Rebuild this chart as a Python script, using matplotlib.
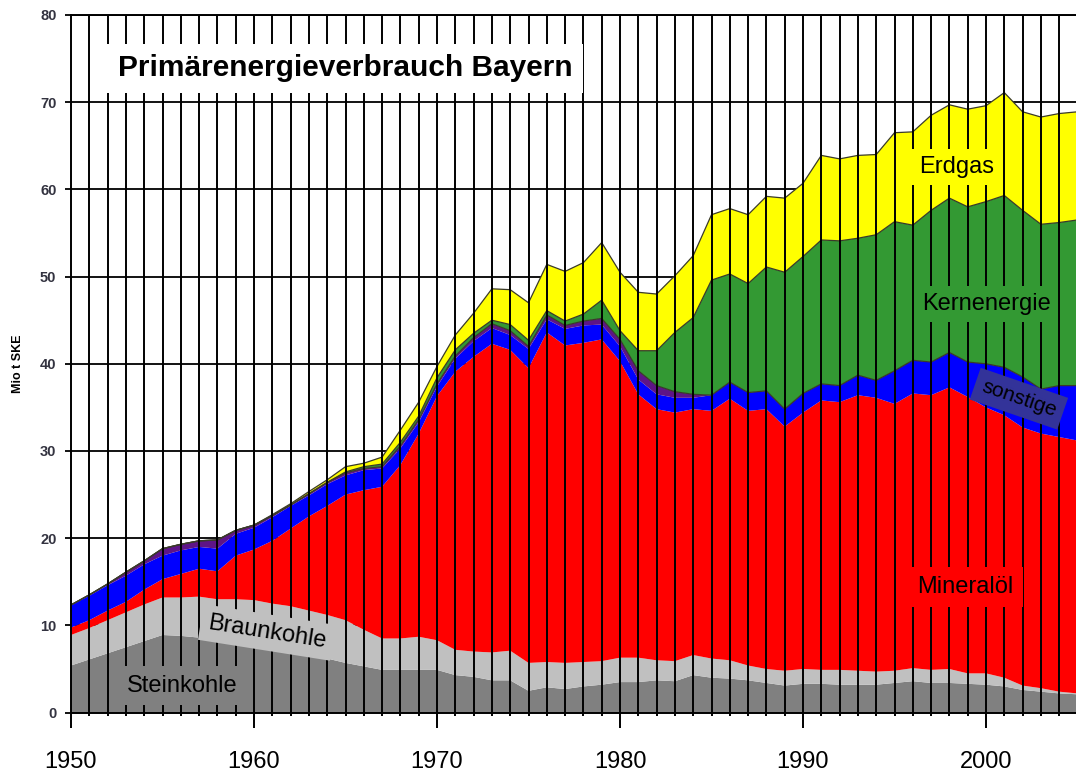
import numpy as np
import matplotlib
matplotlib.use("Agg")
import matplotlib.pyplot as plt

plt.rcParams['font.family'] = ['Liberation Sans', 'DejaVu Sans']

years = np.arange(1950, 2006)
decade_ticks = [1950, 1960, 1970, 1980, 1990, 2000]
y_ticks = [0, 10, 20, 30, 40, 50, 60, 70, 80]

steinkohle = [5.4, 6.1, 6.8, 7.5, 8.2, 8.9, 8.8, 8.6, 8.3, 8.1,
              7.8, 7.4, 7.0, 6.6, 6.2, 5.7, 5.3, 4.9, 4.9, 4.9,
              4.9, 4.3, 4.1, 3.7, 3.7, 2.5, 2.9, 2.7, 3.0, 3.2,
              3.5, 3.5, 3.7, 3.6, 4.3, 4.0, 3.9, 3.7, 3.4, 3.1,
              3.3, 3.3, 3.2, 3.2, 3.2, 3.4, 3.6, 3.4, 3.4, 3.3,
              3.2, 3.0, 2.6, 2.4, 2.2, 2.1]
braunkohle = [3.5, 3.6, 3.8, 4.0, 4.2, 4.3, 4.4, 4.7, 4.7, 4.9,
              5.1, 5.1, 5.2, 5.1, 5.0, 4.9, 4.2, 3.6, 3.6, 3.8,
              3.4, 2.9, 2.9, 3.2, 3.4, 3.2, 2.9, 3.0, 2.8, 2.7,
              2.8, 2.8, 2.3, 2.3, 2.3, 2.2, 2.1, 1.7, 1.6, 1.7,
              1.7, 1.6, 1.7, 1.6, 1.5, 1.4, 1.5, 1.5, 1.6, 1.2,
              1.3, 1.0, 0.5, 0.4, 0.2, 0.1]
mineraloel = [0.85, 0.9, 1.1, 1.2, 1.7, 2.1, 2.7, 3.2, 3.2, 5.0,
              5.8, 7.2, 8.9, 10.8, 12.5, 14.4, 16.0, 17.4, 19.9, 23.3,
              28.0, 31.9, 33.8, 35.4, 34.5, 33.8, 37.8, 36.4, 36.6, 36.9,
              34.0, 30.2, 28.8, 28.5, 28.2, 28.4, 30.0, 29.2, 29.8, 28.0,
              29.4, 30.9, 30.7, 31.6, 31.4, 30.6, 31.5, 31.5, 32.3, 31.7,
              30.5, 30.1, 29.6, 29.2, 29.2, 29.0]
sonstige = [2.55, 2.8, 2.9, 3.0, 2.9, 2.7, 2.7, 2.5, 2.6, 2.5,
            2.5, 2.7, 2.6, 2.4, 2.5, 2.2, 2.3, 2.1, 1.9, 1.3,
            1.1, 1.5, 1.8, 1.8, 1.7, 2.2, 1.5, 1.9, 2.0, 1.7,
            1.7, 1.7, 1.7, 1.7, 1.3, 1.8, 1.9, 2.1, 2.1, 2.0,
            2.2, 1.9, 1.9, 2.3, 2.0, 3.8, 3.8, 3.8, 4.0, 4.0,
            5.0, 5.5, 5.8, 5.1, 5.9, 6.3]
stromaustausch = [0.05, 0.1, 0.15, 0.4, 0.4, 0.8, 0.7, 0.7, 1.0, 0.4,
                  0.3, 0.2, 0.1, 0.2, 0.2, 0.3, 0.2, 0.2, 0.3, 0.3,
                  0.3, 0.3, 0.4, 0.5, 0.5, 0.3, 0.5, 0.4, 0.5, 0.7,
                  0.8, 1.0, 1.0, 0.7, 0.4, 0.0, 0.0, 0.0, 0.0, 0.0,
                  0.0, 0.0, 0.0, 0.0, 0.0, 0.0, 0.0, 0.0, 0.0, 0.0,
                  0.0, 0.0, 0.0, 0.0, 0.0, 0.0]
kernenergie = [0.0, 0.0, 0.0, 0.0, 0.0, 0.0, 0.0, 0.0, 0.0, 0.0,
               0.0, 0.0, 0.0, 0.0, 0.0, 0.1, 0.2, 0.3, 0.4, 0.4,
               0.7, 0.7, 0.5, 0.4, 0.7, 0.7, 0.5, 0.5, 0.8, 2.1,
               1.0, 2.3, 4.0, 6.8, 8.8, 13.2, 12.4, 12.5, 14.2, 15.7,
               15.7, 16.5, 16.6, 15.7, 16.7, 17.1, 15.5, 17.4, 17.7, 17.8,
               18.6, 19.7, 19.1, 18.9, 18.7, 19.0]
erdgas = [0.0, 0.0, 0.0, 0.0, 0.0, 0.0, 0.0, 0.0, 0.0, 0.0,
          0.0, 0.1, 0.15, 0.25, 0.3, 0.6, 0.4, 0.8, 1.4, 1.6,
          1.3, 1.7, 2.3, 3.6, 4.0, 4.3, 5.3, 5.7, 5.9, 6.6,
          6.7, 6.7, 6.5, 6.5, 7.1, 7.5, 7.5, 7.9, 8.1, 8.5,
          8.4, 9.7, 9.4, 9.5, 9.2, 10.2, 10.7, 10.9, 10.7, 11.2,
          11.0, 11.8, 11.3, 12.3, 12.5, 12.4]

series = [steinkohle, braunkohle, mineraloel, sonstige, stromaustausch, kernenergie, erdgas]
colors = ['#808080', '#c0c0c0', '#ff0000', '#0000ff', '#5e1487', '#339933', '#ffff00']

fig = plt.figure(figsize=(10.76, 7.72), dpi=100)
ax = fig.add_axes([71 / 1076, (772 - 712.6) / 772, (1077.5 - 71) / 1076, 697.6 / 772])

# horizontal grid behind areas
ax.set_yticks(y_ticks)
ax.yaxis.grid(True, color='black', linewidth=1.3, zorder=0)
ax.set_axisbelow(True)

ax.stackplot(years, *series, colors=colors, linewidth=0, zorder=1)

# outlines on top of the upper layers
cum = np.cumsum(np.array(series), axis=0)
for idx in (4, 5, 6):
    ax.plot(years, cum[idx], color='#3a3a2a', linewidth=0.9, zorder=1.5)

# vertical year lines over the areas
ax.vlines(years[1:], 0, 80, colors='black', linewidth=1.4, zorder=2)

ax.set_xlim(1950, 2005)
ax.set_ylim(0, 80)

ax.set_xticks(decade_ticks)
ax.set_xticks(years, minor=True)
ax.set_xticklabels([str(d) for d in decade_ticks], fontsize=17)
ax.tick_params(axis='x', which='major', direction='out', length=11, width=1.4, pad=17)
ax.tick_params(axis='x', which='minor', direction='out', length=2.5, width=1.4)
ax.set_yticklabels([str(v) for v in y_ticks], fontsize=10.5, fontweight='bold', color='#333340')
ax.tick_params(axis='y', direction='out', length=4.5, width=1.3, pad=6)

for side in ('left', 'bottom', 'top'):
    ax.spines[side].set_linewidth(1.4)
    ax.spines[side].set_color('black')
ax.spines['right'].set_visible(False)

fig.text(18 / 1076, 1 - 364 / 772, 'Mio t SKE', rotation=90, ha='center', va='center',
         fontsize=9, fontweight='bold')

def label(x, y, s, fc, size=17, rot=0, pad=0.3, **kw):
    ax.text(x, y, s, fontsize=size, rotation=rot, rotation_mode='anchor', ha='center', va='center',
            zorder=5, bbox=dict(boxstyle='square,pad=%s' % pad, facecolor=fc, edgecolor='none'), **kw)

ax.text(1952.55, 73.9, 'Primärenergieverbrauch Bayern', fontsize=21.5, fontweight='bold',
        ha='left', va='center', zorder=5,
        bbox=dict(boxstyle='square,pad=0.35', facecolor='white', edgecolor='none'))
label(1998.4, 62.6, 'Erdgas', '#ffff00')
label(2000.0, 46.9, 'Kernenergie', '#339933')
label(1998.85, 14.4, 'Mineralöl', '#ff0000', pad=0.4)
label(2001.8, 36.0, 'sonstige', '#333399', size=15, rot=-19, pad=0.35)
label(1960.7, 9.2, 'Braunkohle', '#c0c0c0', rot=-9, pad=0.3)
label(1956.1, 3.1, 'Steinkohle', '#808080', pad=0.35)

fig.savefig('out.png', dpi=100)
